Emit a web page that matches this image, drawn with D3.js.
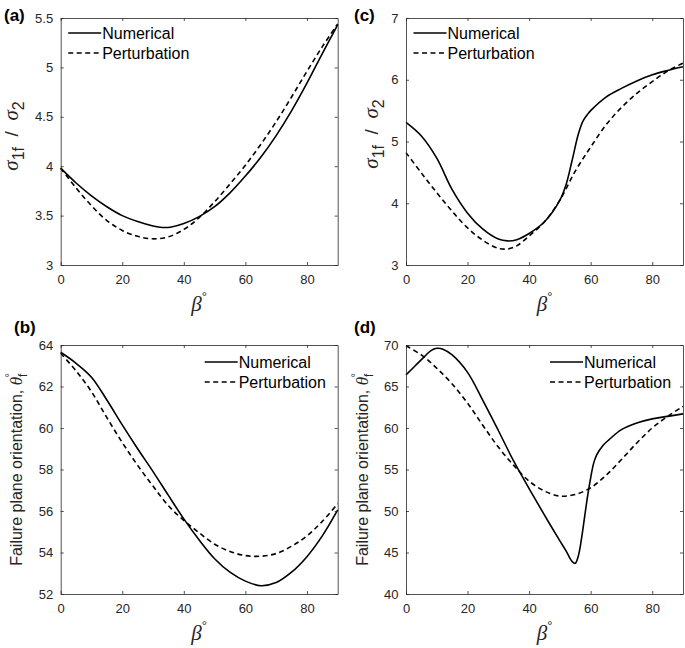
<!DOCTYPE html>
<html><head><meta charset="utf-8">
<script src="https://cdn.jsdelivr.net/npm/d3@7"></script>
<style>body{margin:0;background:#fff}</style>
</head><body>
<svg id="fig" width="685" height="648" xmlns="http://www.w3.org/2000/svg"></svg>
<script>
// ---------------- data ----------------
const xTicks = [0, 20, 40, 60, 80];
const aYTicks = [3, 3.5, 4, 4.5, 5, 5.5];
const bYTicks = [52, 54, 56, 58, 60, 62, 64];
const cYTicks = [3, 4, 5, 6, 7];
const dYTicks = [40, 45, 50, 55, 60, 65, 70];
const legendLabels = ["Numerical", "Perturbation"];

// (a) sigma_1f / sigma_2
const aNumBeta = [0,5,10,15,20,25,30,33,36,40,45,50,55,60,65,70,75,80,85,90];
const aNum     = [3.98,3.83,3.70,3.59,3.50,3.44,3.395,3.38,3.385,3.42,3.49,3.59,3.73,3.90,4.09,4.31,4.56,4.84,5.14,5.43];
const aPerBeta = [0,5,10,15,20,25,30,35,40,45,50,55,60,65,70,75,80,85,90];
const aPer     = [3.98,3.78,3.60,3.45,3.35,3.29,3.265,3.285,3.36,3.48,3.64,3.82,4.01,4.22,4.45,4.70,4.96,5.21,5.44];

// (b) failure plane orientation
const bNumBeta = [0,5,10,15,20,25,30,35,40,45,50,55,60,65,70,75,80,85,90];
const bNum     = [63.65,63.12,62.45,61.35,60.15,59.0,57.9,56.75,55.62,54.6,53.7,53.05,52.62,52.4,52.55,53.05,53.8,54.8,56.05];
const bPerBeta = [0,5,10,15,20,25,30,35,40,45,50,55,60,65,70,75,80,85,90];
const bPer     = [63.6,62.75,61.75,60.5,59.3,58.2,57.2,56.25,55.55,54.95,54.4,54.05,53.85,53.82,53.95,54.3,54.8,55.5,56.35];

// (c) sigma_1f / sigma_2
const cNumBeta = [0,5,10,15,20,25,30,33,36,40,45,50,52,54,56,57.5,59,60,65,70,75,80,85,90];
const cNum     = [5.31,5.09,4.73,4.22,3.84,3.58,3.42,3.39,3.41,3.51,3.70,4.05,4.30,4.70,5.12,5.33,5.44,5.50,5.72,5.86,5.98,6.08,6.15,6.21];
const cPerBeta = [0,5,10,15,20,25,30,33,36,40,45,50,55,60,65,70,75,80,85,90];
const cPer     = [4.82,4.49,4.17,3.87,3.60,3.40,3.27,3.26,3.31,3.47,3.70,4.05,4.52,4.91,5.27,5.55,5.78,5.97,6.14,6.27];

// (d) failure plane orientation
const dNumBeta = [0,3,6,8,10,12,15,20,25,30,35,40,45,50,52,54,55,56,57,58,59,60,61,62,64,66,70,75,80,85,90];
const dNum     = [66.4,67.5,68.6,69.3,69.6,69.5,68.8,66.7,63.3,59.7,56.0,52.7,49.5,46.4,45.2,43.9,43.7,44.6,46.6,49.2,51.8,54.0,55.8,56.8,57.9,58.6,59.8,60.6,61.1,61.4,61.7];
const dPerBeta = [0,5,10,15,20,25,30,35,40,45,50,55,60,65,70,75,80,85,90];
const dPer     = [69.9,68.8,67.2,65.3,63.0,60.3,57.7,55.5,53.6,52.4,51.8,52.0,52.8,54.3,56.2,58.2,60.0,61.4,62.6];

// ---------------- layout ----------------
const SANS = "'Liberation Sans', Arial, Helvetica, sans-serif";
const SERIF = "'Liberation Serif', 'Times New Roman', serif";
const AX = "#262626";

const panels = [
  {tag:"(a)", tagX:4,   tagY:21,  box:[60.7,18,337.7,265], ydom:[3,5.5], yt:aYTicks,
   series:[[aNumBeta,aNum],[aPerBeta,aPer]], legend:"left", ylab:"sigma", ylabX:18, ylabY:136},
  {tag:"(b)", tagX:14,  tagY:333, box:[60.7,345,337.7,594], ydom:[52,64], yt:bYTicks,
   series:[[bNumBeta,bNum],[bPerBeta,bPer]], legend:"right", ylab:"theta", ylabX:22, ylabY:469.5},
  {tag:"(c)", tagX:354, tagY:21,  box:[406,18,683,265], ydom:[3,7], yt:cYTicks,
   series:[[cNumBeta,cNum],[cPerBeta,cPer]], legend:"left", ylab:"sigma", ylabX:378, ylabY:134},
  {tag:"(d)", tagX:354, tagY:333, box:[406,345,683,594], ydom:[40,70], yt:dYTicks,
   series:[[dNumBeta,dNum],[dPerBeta,dPer]], legend:"right", ylab:"theta", ylabX:368, ylabY:469.5}
];

const svg = d3.select("#fig");
svg.append("rect").attr("width",685).attr("height",648).attr("fill","#fff");

function styleAxis(sel){
  sel.select(".domain").attr("stroke",AX).attr("stroke-width",0.8);
  sel.selectAll(".tick line").attr("stroke",AX).attr("stroke-width",0.8);
  sel.selectAll("text").attr("fill",AX).style("font-family",SANS).style("font-size","13px");
  sel.attr("font-family",null).attr("font-size",null);
}

panels.forEach(p => {
  const [x0,y0,x1,y1] = p.box;
  const x = d3.scaleLinear().domain([0,90]).range([x0,x1]);
  const y = d3.scaleLinear().domain(p.ydom).range([y1,y0]);
  const g = svg.append("g");

  // curves
  const line = d3.line().x(d=>x(d[0])).y(d=>y(d[1])).curve(d3.curveCatmullRom.alpha(0.5));
  p.series.forEach((s,i) => {
    g.append("path").datum(d3.zip(s[0],s[1])).attr("d",line)
      .attr("fill","none").attr("stroke","#000").attr("stroke-width",1.6)
      .attr("stroke-dasharray", i===1 ? "5,3.5" : null);
  });

  // axes (MATLAB style box with inward ticks)
  g.append("g").attr("transform",`translate(0,${y1})`)
    .call(d3.axisBottom(x).tickValues(xTicks).tickSizeInner(-3).tickSizeOuter(0).tickPadding(10).tickFormat(d=>String(d)))
    .call(styleAxis);
  g.append("g").attr("transform",`translate(0,${y0})`)
    .call(d3.axisTop(x).tickValues(xTicks).tickSizeInner(-3).tickSizeOuter(0).tickFormat(()=>""))
    .call(styleAxis);
  g.append("g").attr("transform",`translate(${x0},0)`)
    .call(d3.axisLeft(y).tickValues(p.yt).tickSizeInner(-3).tickSizeOuter(0).tickPadding(7.5).tickFormat(d=>String(d)))
    .call(styleAxis);
  g.append("g").attr("transform",`translate(${x1},0)`)
    .call(d3.axisRight(y).tickValues(p.yt).tickSizeInner(-3).tickSizeOuter(0).tickFormat(()=>""))
    .call(styleAxis);

  // legend
  const lx = p.legend==="left" ? x0+7.5 : x1-133;
  const ly = p.legend==="left" ? y0+15 : y0+17;
  legendLabels.forEach((lab,i) => {
    const yy = ly + i*20;
    g.append("line").attr("x1",lx).attr("x2",lx+33).attr("y1",yy).attr("y2",yy)
      .attr("stroke","#000").attr("stroke-width",1.6)
      .attr("stroke-dasharray", i===1 ? "5,3.5" : null);
    g.append("text").attr("x",lx+34).attr("y",yy+5.5).text(lab)
      .style("font-family",SANS).style("font-size","16px").attr("fill","#000");
  });

  // panel tag
  svg.append("text").attr("x",p.tagX).attr("y",p.tagY).text(p.tag)
    .style("font-family",SANS).style("font-size","17px").style("font-weight","bold").attr("fill","#000");

  // x label
  const xl = svg.append("text").attr("x",(x0+x1)/2).attr("y",y1+46).attr("text-anchor","middle").attr("fill",AX);
  xl.append("tspan").style("font-family",SERIF).style("font-style","italic").style("font-size","21px").text("β");
  xl.append("tspan").attr("dy",-10).style("font-family",SANS).style("font-size","13px").text("°");

  // y label
  const yl = svg.append("text").attr("transform",`translate(${p.ylabX},${p.ylabY}) rotate(-90)`)
    .attr("text-anchor","middle").attr("fill",AX).style("white-space","pre");
  if (p.ylab==="sigma") {
    yl.style("font-family",SANS).style("font-size","19px");
    yl.append("tspan").style("font-family",SERIF).style("font-style","italic").style("font-size","21px").text("σ");
    yl.append("tspan").attr("dy",6).style("font-size","16px").text("1f");
    yl.append("tspan").attr("dy",-6).text("  /  ");
    yl.append("tspan").style("font-family",SERIF).style("font-style","italic").style("font-size","21px").text("σ");
    yl.append("tspan").attr("dy",6).style("font-size","16px").text("2");
  } else {
    yl.style("font-family",SANS).style("font-size","16px");
    yl.append("tspan").text("Failure plane orientation, ");
    yl.append("tspan").style("font-family",SERIF).style("font-style","italic").style("font-size","17px").text("θ");
    yl.append("tspan").attr("dy",5).style("font-size","12px").text("f");
    yl.append("tspan").attr("dx",-4).attr("dy",-14).style("font-size","11px").text("°");
  }
});
</script>
</body></html>
